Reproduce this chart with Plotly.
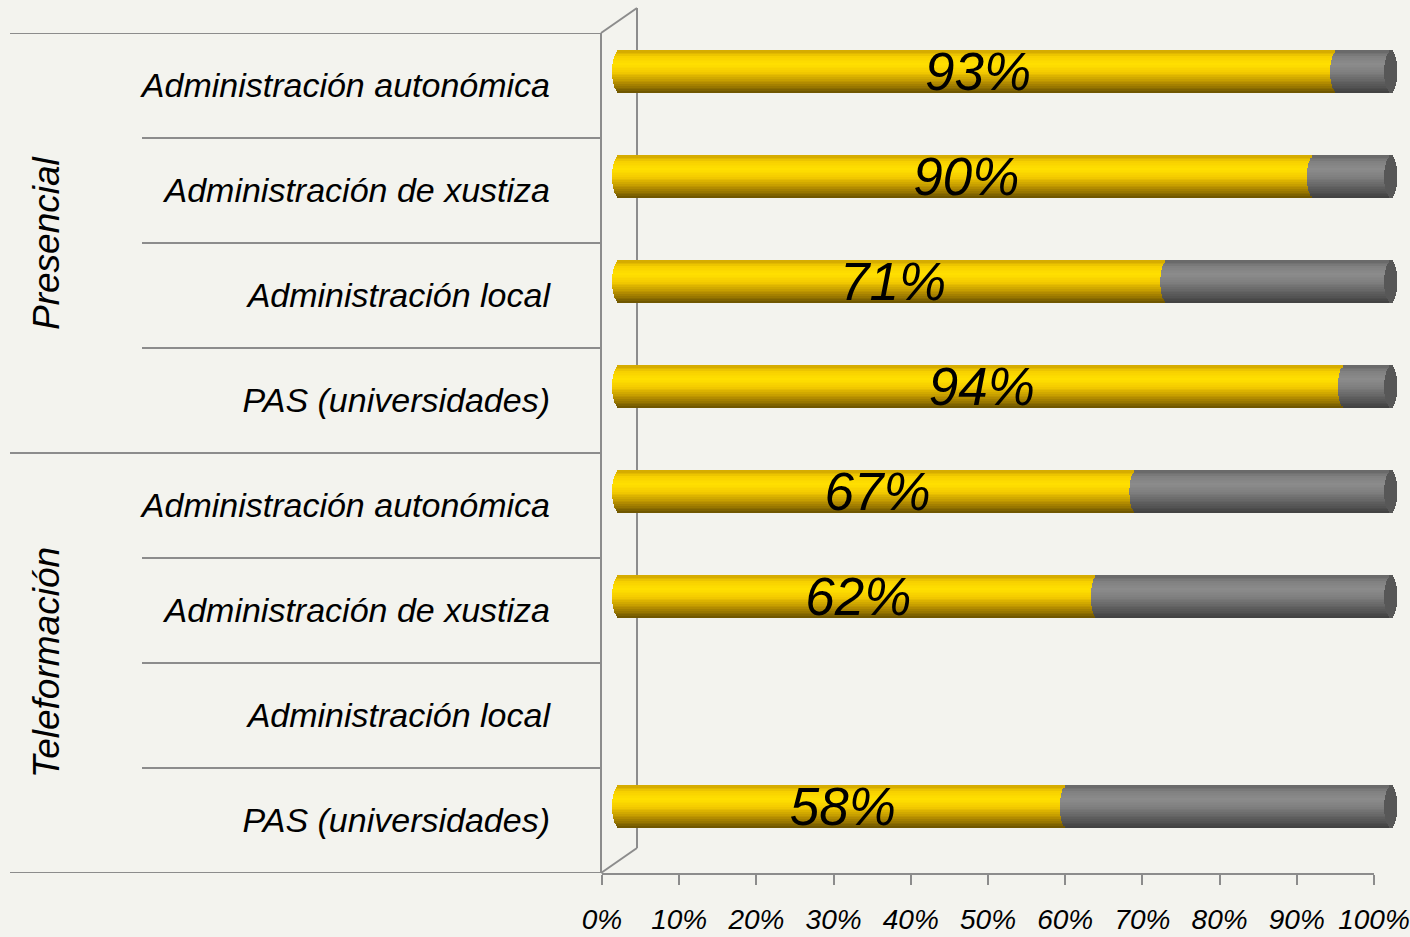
import math
import plotly.graph_objects as go

# ---- data ----
groups = ["Presencial", "Teleformación"]
categories = [
    "Administración autonómica",
    "Administración de xustiza",
    "Administración local",
    "PAS (universidades)",
    "Administración autonómica",
    "Administración de xustiza",
    "Administración local",
    "PAS (universidades)",
]
group_of_row = [0, 0, 0, 0, 1, 1, 1, 1]
yes_pct = [93, 90, 71, 94, 67, 62, None, 58]
tick_vals = [0, 10, 20, 30, 40, 50, 60, 70, 80, 90, 100]

# ---- style ----
W, H = 1410, 937
BG = "#F3F3EE"
LINE = "#8C8C8C"
FONT = "Liberation Sans, Arial, sans-serif"

# gradient key colours from bottom (0) to top (1) of the cylinder
yellow_keys = [(0.0, (0x6A, 0x52, 0x00)), (0.25, (0xB8, 0x90, 0x00)), (0.5, (0xF5, 0xCC, 0x00)),
               (0.68, (0xFF, 0xE0, 0x00)), (0.85, (0xF8, 0xD2, 0x00)), (1.0, (0xD0, 0xA6, 0x00))]
grey_keys = [(0.0, (0x40, 0x40, 0x40)), (0.25, (0x60, 0x60, 0x60)), (0.5, (0x80, 0x80, 0x80)),
             (0.68, (0x8B, 0x8B, 0x8B)), (0.85, (0x82, 0x82, 0x82)), (1.0, (0x66, 0x66, 0x66))]
CAP_COLOR = "#575757"
N_STRIPS = 24
R = 0.85  # half-width of the elliptical ends, in axis units


def grad(keys, t):
    for (t0, c0), (t1, c1) in zip(keys, keys[1:]):
        if t0 <= t <= t1:
            f = (t - t0) / (t1 - t0)
            return "#%02X%02X%02X" % tuple(round(a + (b - a) * f) for a, b in zip(c0, c1))
    return "#%02X%02X%02X" % keys[-1][1]


n = len(categories)
ypos = [-i for i in range(n)]
bar_bottom = -0.071
bar_thick = 0.40
strip = bar_thick / N_STRIPS

fig = go.Figure()
for k in range(N_STRIPS):
    t = (k + 0.5) / N_STRIPS
    s = math.sqrt(max(0.0, 1 - (2 * t - 1) ** 2))
    e = R * s
    off = bar_bottom + k * strip
    common = dict(y=ypos, orientation="h", width=strip * 1.3, offset=off,
                  xaxis="x", yaxis="y", hoverinfo="skip", showlegend=False)
    fig.add_trace(go.Bar(
        x=[None if v is None else v + e for v in yes_pct],
        base=[None if v is None else -e for v in yes_pct],
        marker=dict(color=grad(yellow_keys, t), line=dict(width=0)), **common))
    fig.add_trace(go.Bar(
        x=[None if v is None else 100 - v + e for v in yes_pct],
        base=[None if v is None else v - e for v in yes_pct],
        marker=dict(color=grad(grey_keys, t), line=dict(width=0)), **common))
    fig.add_trace(go.Bar(
        x=[None if v is None else 2 * e for v in yes_pct],
        base=[None if v is None else 100 - e for v in yes_pct],
        marker=dict(color=CAP_COLOR, line=dict(width=0)), **common))

# value labels, centred on the yellow segment
lab_x = [None if v is None else v / 2 for v in yes_pct]
lab_t = ["" if v is None else f"{v}%" for v in yes_pct]
fig.add_trace(go.Scatter(
    x=lab_x, y=[p + bar_bottom + bar_thick / 2 - 0.05 for p in ypos], mode="text",
    text=lab_t, textposition="middle center",
    textfont=dict(family=FONT, size=53, color="black", style="italic"),
    xaxis="x", yaxis="y", hoverinfo="skip", showlegend=False))

# invisible trace to carry the front (tick) axis
fig.add_trace(go.Scatter(x=[0, 100], y=[None, None], mode="markers",
                         xaxis="x2", yaxis="y", showlegend=False, hoverinfo="skip"))

px = lambda p: p / W
py = lambda p: 1 - p / H

unit = (1391 - 619) / 100.0
x_bar_dom = [px(619 - 1.0 * unit), px(1391 + 1.0 * unit)]
x_tick_dom = [px(602), px(1374)]
y_dom = [py(873), py(33)]

fig.update_layout(
    width=W, height=H, margin=dict(l=0, r=0, t=0, b=0, autoexpand=False),
    paper_bgcolor=BG, plot_bgcolor="rgba(0,0,0,0)",
    barmode="overlay", bargap=0,
    xaxis=dict(domain=x_bar_dom, range=[-1, 101], visible=False, fixedrange=True, anchor="y",
               automargin=False),
    xaxis2=dict(domain=x_tick_dom, range=[0, 100], anchor="y", automargin=False,
                tickvals=tick_vals, ticktext=[f"{t}%" for t in tick_vals],
                ticks="outside", ticklen=10, tickwidth=2, tickcolor=LINE,
                showline=True, linecolor=LINE, linewidth=2, showgrid=False, zeroline=False,
                ticklabelstandoff=10,
                tickfont=dict(family=FONT, size=28, color="black", style="italic")),
    yaxis=dict(domain=y_dom, range=[-n + 0.5, 0.5], anchor="free", position=px(602),
               automargin=False,
               tickvals=ypos, ticktext=categories, ticks="", showgrid=False, zeroline=False,
               showline=False, ticklabelstandoff=52,
               tickfont=dict(family=FONT, size=34, color="black", style="italic")),
)

# frame of the category area and 3D wall (decorative)
shp = dict(type="line", line=dict(color=LINE, width=2), layer="below")
bounds = [0.5 - i for i in range(n + 1)]
for i, b in enumerate(bounds):
    x0 = px(10) if i % 4 == 0 else px(142)
    fig.add_shape(**shp, xref="paper", yref="y", x0=x0, x1=px(601), y0=b, y1=b)
fig.add_shape(**shp, xref="paper", yref="paper", x0=px(601), x1=px(601), y0=py(33), y1=py(873))
fig.add_shape(**shp, xref="paper", yref="paper", x0=px(601), x1=px(637), y0=py(33), y1=py(8))
fig.add_shape(**shp, xref="paper", yref="paper", x0=px(637), x1=px(637), y0=py(8), y1=py(848))
fig.add_shape(**shp, xref="paper", yref="paper", x0=px(601), x1=px(637), y0=py(873), y1=py(848))

# group labels (rotated)
for g, name in enumerate(groups):
    rows = [i for i in range(n) if group_of_row[i] == g]
    mid = sum(ypos[i] for i in rows) / len(rows)
    fig.add_annotation(text=name, xref="paper", yref="y", x=px(46), y=mid,
                       xanchor="center", yanchor="middle",
                       textangle=-90, showarrow=False,
                       font=dict(family=FONT, size=37, color="black", style="italic"))

fig.write_html("out.html", config={"displayModeBar": False},
               post_script="document.body.style.margin='0';")
